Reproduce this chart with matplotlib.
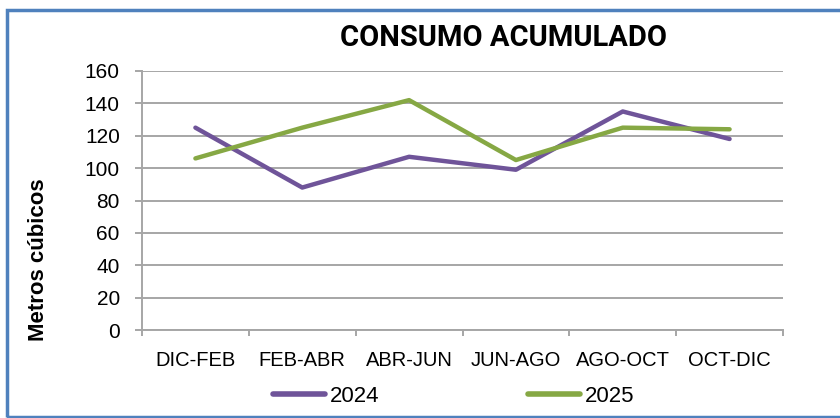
import matplotlib
matplotlib.use("Agg")
import matplotlib.pyplot as plt
from matplotlib.patches import Rectangle
from matplotlib.lines import Line2D
import numpy as np

categories = ["DIC-FEB", "FEB-ABR", "ABR-JUN", "JUN-AGO", "AGO-OCT", "OCT-DIC"]
series_2024 = [125, 88, 107, 99, 135, 118]
series_2025 = [106, 125, 142, 105, 125, 124]
yticks = [0, 20, 40, 60, 80, 100, 120, 140, 160]

purple = "#6F5499"
green = "#86A844"
grid = "#A6A6A6"

plt.rcParams['font.family'] = ['Liberation Sans', 'DejaVu Sans']

fig = plt.figure(figsize=(8.4, 4.18), dpi=100)
ax = fig.add_axes([142/840, 1-330/418, (783-142)/840, (330-71)/418])

x = np.arange(len(categories))
ax.plot(x, series_2024, color=purple, lw=3.2, solid_capstyle='round', solid_joinstyle='round', label='2024')
ax.plot(x, series_2025, color=green, lw=3.2, solid_capstyle='round', solid_joinstyle='round', label='2025')

ax.set_xlim(-0.5, len(categories) - 0.5)
ax.set_ylim(0, 160)
ax.set_yticks(yticks)
ax.yaxis.grid(True, color=grid, lw=1.4)
ax.set_axisbelow(True)
ax.set_xticks(x)
ax.set_xticklabels(categories, fontsize=14.5)
ax.set_xticks(np.arange(-0.5, len(categories)), minor=True)
ax.tick_params(axis='x', which='major', length=0, pad=15)
ax.tick_params(axis='x', which='minor', length=4, width=1.4, color=grid, direction='out')
ax.tick_params(axis='y', length=5, width=1.4, color=grid, labelsize=15, pad=11)
for s in ['top', 'right']:
    ax.spines[s].set_visible(False)
for s in ['left', 'bottom']:
    ax.spines[s].set_color(grid)
    ax.spines[s].set_linewidth(1.4)

fig.text(39/840, 1-260/418, "Metros cúbicos", rotation=90, ha='center', va='center',
         fontsize=16, fontweight='bold')

fig.text(503/840, 1-38/418, "CONSUMO ACUMULADO", ha='center', va='center',
         fontsize=21, fontweight='bold', family=['Liberation Sans Narrow', 'Roboto', 'DejaVu Sans'])

handles = [Line2D([0], [0], color=purple, lw=4, solid_capstyle='round'),
           Line2D([0], [0], color=green, lw=4, solid_capstyle='round')]
leg = fig.legend(handles, ['2024', '2025'], loc='center', bbox_to_anchor=(454/840, 1-396/418),
                 ncol=2, frameon=False, handlelength=2.3, columnspacing=6.7,
                 handletextpad=0.25, prop={'family': ['Liberation Sans'], 'size': 16})

# frame border
fig.patches.append(Rectangle((6.5/840, 1.5/418), 2, 1-(1.5+9.5)/418, transform=fig.transFigure,
                             fill=False, edgecolor="#4F81BD", lw=2.5, clip_on=False))

fig.savefig("out.png", dpi=100)
